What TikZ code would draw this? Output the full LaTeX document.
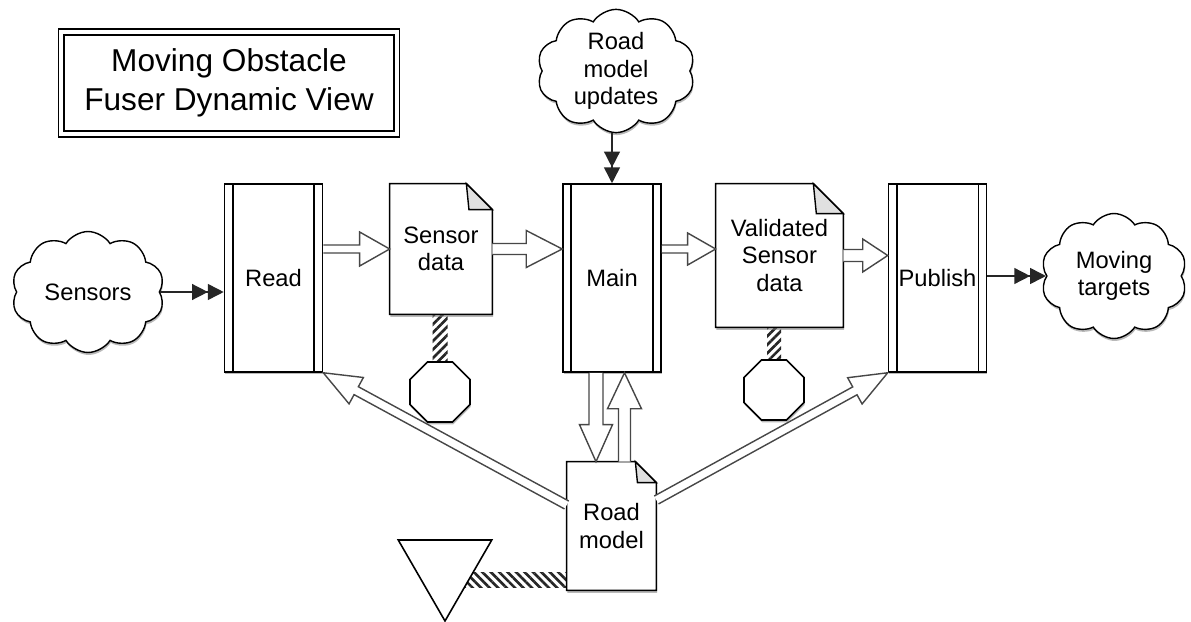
\documentclass[tikz,border=0pt]{standalone}
\usepackage{fontspec}
\setmainfont{Liberation Sans}
\usetikzlibrary{calc,shapes.symbols,shapes.geometric,arrows.meta,shadows,patterns.meta}
\pgfdeclarelayer{bg}
\pgfdeclarelayer{mid}
\pgfsetlayers{bg,mid,main}
\newcommand\hollowarr[5]{%
  \coordinate (hbase) at ($(#2)!#5!(#1)$);
  \draw[harrow] ($(#1)!#3!90:(#2)$) -- ($(hbase)!#3!90:(#2)$) -- ($(hbase)!#4!90:(#2)$) -- (#2)
    -- ($(hbase)!#4!-90:(#2)$) -- ($(hbase)!#3!-90:(#2)$) -- ($(#1)!#3!-90:(#2)$);
}
\begin{document}
\begin{tikzpicture}[x=0.02cm,y=-0.02cm,
  every node/.style={font=\fontsize{13.5}{15.5}\selectfont, align=center, inner sep=0pt},
  shd/.style={drop shadow={shadow xshift=0.4pt,shadow yshift=-1.4pt,opacity=0.55}},
  cloudn/.style={cloud, cloud puffs=10, cloud puff arc=115, cloud ignores aspect, draw, fill=white, line width=0.8pt, shd},
  proc/.style={draw, fill=white, line width=0.9pt, minimum width=1.96cm, minimum height=3.76cm, shd},
  docn/.style={rectangle},
  docline/.style={draw, fill=white, line width=0.9pt, shd},
  octn/.style={regular polygon, regular polygon sides=8, draw, fill=white, line width=0.9pt, minimum size=1.3cm, shd},
  trin/.style={regular polygon, regular polygon sides=3, shape border rotate=180, draw, fill=white, line width=0.9pt, minimum size=2.16cm},
  titlen/.style={draw, double, double distance=2.6pt, line width=0.7pt, minimum width=6.72cm, minimum height=2.04cm, font=\fontsize{18}{22.5}\selectfont},
  harrow/.style={draw=black!72, fill=white, line width=0.8pt, line join=miter},
  dart/.style={draw=black!85, line width=0.9pt, -{Triangle[length=9pt,width=9pt]Triangle[length=9pt,width=9pt]}},
  hatchv/.style={pattern={Lines[angle=45,distance=3.4pt,line width=1.5pt]}, pattern color=black!85},
  hatchh/.style={pattern={Lines[angle=-45,distance=3.4pt,line width=1.5pt]}, pattern color=black!85}
]
\useasboundingbox (0,0) rectangle (1191,622);
\begin{pgfonlayer}{bg}
\fill[white] (0,0) rectangle (1191,622);
\end{pgfonlayer}

% nodes
\node[titlen] (title) at (229,83) {Moving Obstacle\\Fuser Dynamic View};
\node[cloudn, minimum width=3.06cm, minimum height=2.42cm] (sensors) at (88,292) {Sensors};
\node[proc] (read) at (273.5,278) {Read};
\node[docn, minimum width=2.04cm, minimum height=2.6cm] (sd) at (441,249) {Sensor\\data};
\node[proc] (main) at (612,278) {Main};
\node[docn, minimum width=2.54cm, minimum height=2.86cm] (val) at (779.5,255.5) {Validated\\Sensor\\data};
\node[proc] (pub) at (937.5,278) {Publish};
\node[cloudn, minimum width=2.92cm, minimum height=2.5cm] (mt) at (1114,276) {Moving\\targets};
\node[cloudn, minimum width=3.16cm, minimum height=2.36cm] (rmu) at (616,71) {Road\\model\\updates};
\node[docn, minimum width=1.78cm, minimum height=2.56cm] (rm) at (611.5,526) {Road\\model};
\node[octn] (oc1) at (440,392) {};
\node[octn] (oc2) at (774,390) {};
\node[trin] (tri) at (445,567) {};

% inner lines of process boxes
\foreach \n in {read,main,pub}{
  \draw[line width=0.9pt] ([xshift=0.18cm]\n.north west) -- ([xshift=0.18cm]\n.south west);
  \draw[line width=0.9pt] ([xshift=-0.18cm]\n.north east) -- ([xshift=-0.18cm]\n.south east);
}

% document outlines
\begin{pgfonlayer}{mid}
\foreach \n/\f in {sd/0.52cm, val/0.6cm, rm/0.42cm}{
  \path[docline] (\n.north west) -- ([xshift=-\f]\n.north east) -- ([yshift=-\f]\n.north east)
    -- (\n.south east) -- (\n.south west) -- cycle;
  \filldraw[fill=black!12, line width=0.8pt] ([xshift=-\f]\n.north east) -- ([xshift=-0.9*\f, yshift=-\f]\n.north east)
    -- ([yshift=-\f]\n.north east) -- cycle;
}
\end{pgfonlayer}

% hatched links
\begin{pgfonlayer}{bg}
\fill[hatchv] ([xshift=-0.15cm]oc1.north |- sd.south) rectangle ([xshift=0.15cm]oc1.north);
\fill[hatchv] ([xshift=-0.14cm]oc2.north |- val.south) rectangle ([xshift=0.14cm]oc2.north);
\fill[hatchh] ([yshift=-0.1cm]tri.center) rectangle ([yshift=-0.4cm]tri.center -| rm.west);
\end{pgfonlayer}

% filled double-head arrows
\draw[dart] (sensors.east) -- (read.west |- sensors.east);
\draw[dart] (pub.east |- mt.west) -- (mt.west);
\draw[dart] (rmu.south -| main.north) -- (main.north);

% hollow arrows
\coordinate (a1s) at (read.east |- sd.west);
\coordinate (a2e) at (main.west |- sd.east);
\coordinate (a3s) at (main.east |- sd.east);
\coordinate (a3e) at (val.west |- sd.east);
\coordinate (a4e) at (pub.west |- val.east);
\coordinate (a5s) at ([xshift=-0.32cm]main.south);
\coordinate (a5e) at (a5s |- rm.north);
\coordinate (a6s) at ([xshift=0.26cm]rm.north);
\coordinate (a6e) at (a6s |- main.south);
\coordinate (a7s) at ([yshift=0.42cm]rm.west);
\coordinate (a8s) at ([yshift=0.52cm]rm.east);

\hollowarr{a1s}{sd.west}{0.08cm}{0.34cm}{0.6cm}
\hollowarr{sd.east}{a2e}{0.11cm}{0.37cm}{0.72cm}
\hollowarr{a3s}{a3e}{0.08cm}{0.32cm}{0.56cm}
\hollowarr{val.east}{a4e}{0.12cm}{0.33cm}{0.5cm}
\hollowarr{a5s}{a5e}{0.14cm}{0.33cm}{0.74cm}
\hollowarr{a6s}{a6e}{0.12cm}{0.34cm}{0.72cm}
\hollowarr{a7s}{read.south east}{0.09cm}{0.3cm}{0.75cm}
\hollowarr{a8s}{pub.south west}{0.09cm}{0.3cm}{0.75cm}
\end{tikzpicture}
\end{document}
